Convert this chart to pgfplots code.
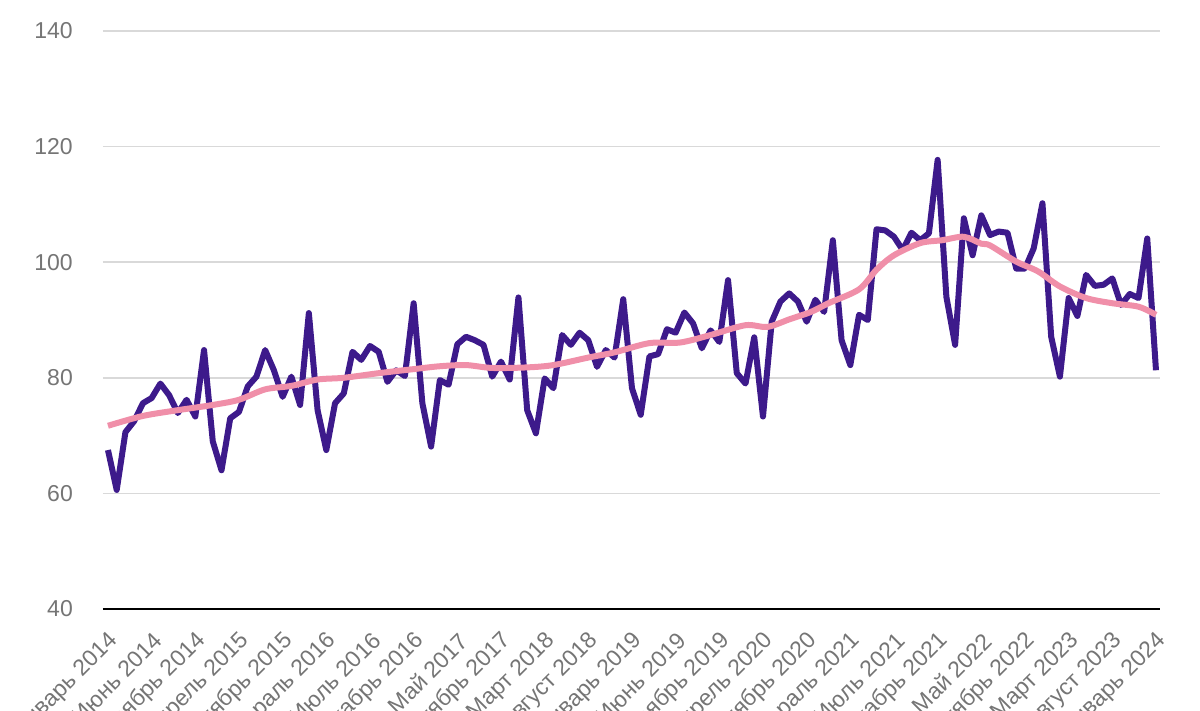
\documentclass[border=0pt]{standalone}
\usepackage{pgfplots}
\pgfplotsset{compat=1.18}
\usepackage{fontspec}
\setmainfont{Liberation Sans}

\definecolor{lineviolet}{HTML}{3D1A8B}
\definecolor{trendpink}{HTML}{F08FA9}
\definecolor{gridgray}{HTML}{D9D9D9}
\definecolor{labelgray}{HTML}{757575}

\begin{document}
\begin{tikzpicture}
\path[use as bounding box] (-103pt,-102pt) rectangle (1097pt,609pt);
\begin{axis}[
    scale only axis,
    width=1057pt, height=578pt,
    at={(0,0)}, anchor=south west,
    xmin=-0.57, xmax=120.46,
    ymin=40, ymax=140,
    ytick={40,60,...,140},
    xtick={0,5,...,120},
    xticklabels={Январь 2014, Июнь 2014, Ноябрь 2014, Апрель 2015, Сентябрь 2015,
        Февраль 2016, Июль 2016, Декабрь 2016, Май 2017, Октябрь 2017, Март 2018,
        Август 2018, Январь 2019, Июнь 2019, Ноябрь 2019, Апрель 2020, Сентябрь 2020,
        Февраль 2021, Июль 2021, Декабрь 2021, Май 2022, Октябрь 2022, Март 2023,
        Август 2023, Январь 2024},
    axis x line*=bottom,
    axis y line*=left,
    x axis line style={black, line width=2pt, -},
    y axis line style={draw=none},
    major tick length=0pt,
    ymajorgrids,
    grid style={gridgray, line width=1.5pt},
    tick label style={font=\fontsize{23}{27}\selectfont, text=labelgray},
    yticklabel style={anchor=east, inner sep=0pt, xshift=-30pt},
    % shifts act in the rotated frame
    xticklabel style={rotate=45, anchor=east, inner sep=0pt, xshift=-15pt, yshift=-24.5pt},
    /pgf/number format/assume math mode=true,
]
\addplot[lineviolet, line width=6pt, line join=round, mark=none] coordinates {
(0,67.5) (1,60.6) (2,70.6) (3,72.5) (4,75.6) (5,76.5) (6,79.0) (7,77.0) (8,73.9) (9,76.2)
(10,73.3) (11,84.8) (12,69.0) (13,64.0) (14,73.0) (15,74.1) (16,78.5) (17,80.2) (18,84.8) (19,81.3)
(20,76.7) (21,80.2) (22,75.3) (23,91.2) (24,74.4) (25,67.5) (26,75.6) (27,77.3) (28,84.5) (29,83.1)
(30,85.5) (31,84.5) (32,79.3) (33,81.3) (34,80.3) (35,92.9) (36,75.6) (37,68.1) (38,79.6) (39,78.8)
(40,85.8) (41,87.1) (42,86.5) (43,85.7) (44,80.2) (45,82.8) (46,79.7) (47,93.9) (48,74.4) (49,70.4)
(50,79.9) (51,78.2) (52,87.4) (53,85.7) (54,87.8) (55,86.5) (56,81.9) (57,84.8) (58,83.5) (59,93.6)
(60,78.2) (61,73.6) (62,83.7) (63,84.1) (64,88.4) (65,87.8) (66,91.3) (67,89.4) (68,85.1) (69,88.2)
(70,86.2) (71,96.9) (72,80.8) (73,79.0) (74,87.0) (75,73.3) (76,89.7) (77,93.2) (78,94.6) (79,93.2)
(80,89.7) (81,93.5) (82,91.4) (83,103.8) (84,86.5) (85,82.2) (86,90.9) (87,90.0) (88,105.7) (89,105.5)
(90,104.4) (91,102.1) (92,105.1) (93,103.8) (94,105.0) (95,117.7) (96,94.0) (97,85.7) (98,107.6) (99,101.2)
(100,108.1) (101,104.7) (102,105.3) (103,105.1) (104,98.9) (105,98.9) (106,102.4) (107,110.2) (108,87.1) (109,80.2)
(110,93.8) (111,90.7) (112,97.8) (113,95.9) (114,96.1) (115,97.2) (116,92.6) (117,94.5) (118,93.8) (119,104.1)
(120,81.3)
};
% trend line
\addplot[trendpink, line width=6pt, smooth, mark=none] coordinates {
(0,71.7) (4,73.4) (8,74.4) (12,75.3) (15,76.2) (18,78.0) (21,78.6) (24,79.7) (27,80.0)
(31,80.8) (35,81.5) (38,82.0) (41,82.2) (44,81.7) (48,81.8) (51,82.2) (55,83.5) (58,84.4)
(62,86.0) (65.5,86.1) (69,87.4) (73,89.1) (75.5,88.8) (78,90.1) (80.5,91.4) (82.5,92.9)
(86,95.3) (88,98.7) (90,101.2) (93,103.3) (95.5,103.8) (98,104.4) (100,103.2) (101,102.9)
(104,100.1) (106.5,98.4) (109,95.8) (112,93.8) (115,92.9) (118,92.3) (120,90.9)
};
\end{axis}
\end{tikzpicture}
\end{document}
